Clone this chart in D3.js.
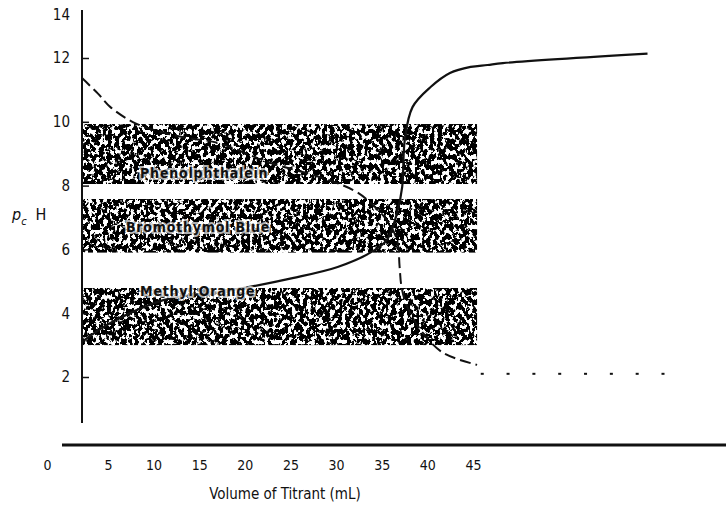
<!DOCTYPE html>
<html>
<head>
<meta charset="utf-8">
<script src="https://cdn.jsdelivr.net/npm/d3@7"></script>
<style>
  body { margin: 0; background: #fff; }
  svg { display: block; }
  text { font-family: "Liberation Sans Narrow", "DejaVu Sans Condensed", sans-serif; fill: #111; }
</style>
</head>
<body>
<svg width="726" height="510"></svg>
<script>
// tick labels
const volumeTicks = [0, 5, 10, 15, 20, 25, 30, 35, 40, 45];
const phTicks = [2, 4, 6, 8, 10, 12, 14];
const phTickMarks = [2, 4, 6, 8, 10, 12];

// indicator ranges (pH)
const indicatorNames = ["Phenolphthalein", "Bromothymol Blue", "Methyl Orange"];
const indicatorLow = [8.05, 5.9, 3.0];
const indicatorHigh = [9.93, 7.58, 4.79];
const indicatorEnd = 30.6; // mL
const labelVolume = [4.5, 3.4, 4.5];
const labelPH = [8.4, 6.7, 4.7];

// weak acid titrated with strong base (solid)
const acidVolume = [0, 2.2, 6.3, 11.7, 16.3, 19.8, 22.3, 23.6, 24.4, 24.8, 25.0, 25.6, 27.0, 28.5, 30.1, 31.4, 32.6, 43.8];
const acidPH = [3.1, 3.69, 4.41, 4.73, 5.1, 5.45, 5.89, 6.29, 7.14, 7.96, 9.43, 10.46, 11.09, 11.53, 11.72, 11.78, 11.84, 12.2];

// weak base titrated with strong acid (dashed)
const baseVolume = [0, 1.2, 2.2, 4.1, 6.1, 8.2, 10.5, 14.6, 18.4, 21.0, 22.1, 23.6, 24.4, 24.6, 24.75, 25.2, 26.4, 28.0, 30.6];
const basePH = [11.37, 10.9, 10.46, 9.96, 9.68, 9.49, 9.34, 8.71, 8.27, 7.86, 7.55, 6.92, 6.29, 5.45, 4.82, 4.19, 3.38, 2.75, 2.38];

// excess acid (dotted)
const excessVolume = [31, 33, 35, 37, 39, 41, 43, 45];
const excessPH = [2.1, 2.1, 2.1, 2.1, 2.1, 2.1, 2.1, 2.1];

const svg = d3.select("svg");

const x = d3.scaleLinear().domain([0, 45]).range([82, 663]);
const y = d3.scaleLinear().domain([2, 12, 14]).range([377, 58, 15]);
const xLabel = d3.scaleLinear().domain([0, 5, 45]).range([47, 108, 473]);

// speckled texture for indicator bands
const defs = svg.append("defs");
const grain = defs.append("filter")
  .attr("id", "grain")
  .attr("x", 0).attr("y", 0).attr("width", 1).attr("height", 1);
grain.append("feTurbulence")
  .attr("type", "fractalNoise")
  .attr("baseFrequency", "0.26 0.2")
  .attr("numOctaves", 4)
  .attr("seed", 5)
  .attr("result", "n");
grain.append("feColorMatrix")
  .attr("in", "n")
  .attr("type", "matrix")
  .attr("values", "0 0 0 0 0  0 0 0 0 0  0 0 0 0 0  -18 0 0 0 10.2")
  .attr("result", "dark");
grain.append("feComposite")
  .attr("in", "dark")
  .attr("in2", "SourceGraphic")
  .attr("operator", "in");

const bands = indicatorNames.map((name, i) => ({
  name, low: indicatorLow[i], high: indicatorHigh[i], lx: labelVolume[i], lp: labelPH[i]
}));

svg.append("g")
  .selectAll("rect")
  .data(bands)
  .enter()
  .append("rect")
  .attr("x", x(0) + 1)
  .attr("y", d => y(d.high))
  .attr("width", x(indicatorEnd) - x(0) - 1)
  .attr("height", d => y(d.low) - y(d.high))
  .attr("fill", "#fff")
  .attr("filter", "url(#grain)");

// y axis
svg.append("line")
  .attr("x1", x(0)).attr("x2", x(0))
  .attr("y1", 10).attr("y2", 423)
  .attr("stroke", "#111").attr("stroke-width", 2);

const yTicks = svg.append("g")
  .attr("transform", `translate(${x(0)},0)`)
  .call(d3.axisRight(y).tickValues(phTickMarks).tickSize(7).tickFormat(""));
yTicks.select(".domain").remove();
yTicks.selectAll("line").attr("stroke", "#111").attr("stroke-width", 1.5);

const yLabels = svg.append("g")
  .attr("transform", `translate(${x(0)},0)`)
  .call(d3.axisLeft(y).tickValues(phTicks).tickSize(0).tickPadding(12));
yLabels.select(".domain").remove();
yLabels.selectAll("text")
  .attr("font-size", 15)
  .attr("fill", "#111");

const yTitle = svg.append("text")
  .attr("x", 12).attr("y", 220)
  .attr("font-size", 16);
yTitle.append("tspan").attr("font-style", "italic").text("p");
yTitle.append("tspan").attr("font-style", "italic").attr("font-size", 11).attr("dy", 5).text("c");
yTitle.append("tspan").attr("dx", 9).attr("dy", -5).text("H");

// x axis
svg.append("line")
  .attr("x1", 62).attr("x2", 726)
  .attr("y1", 445).attr("y2", 445)
  .attr("stroke", "#111").attr("stroke-width", 3);

const xAxis = svg.append("g")
  .attr("transform", "translate(0,460)")
  .call(d3.axisBottom(xLabel).tickValues(volumeTicks).tickSize(0).tickPadding(0));
xAxis.select(".domain").remove();
xAxis.selectAll("text")
  .attr("font-size", 14)
  .attr("fill", "#111");

svg.append("text")
  .attr("x", 285).attr("y", 499)
  .attr("text-anchor", "middle")
  .attr("font-size", 15)
  .text("Volume of Titrant (mL)");

// curves
const line = d3.line()
  .x(d => x(d[0]))
  .y(d => y(d[1]))
  .curve(d3.curveCatmullRom.alpha(0.5));

svg.append("path")
  .datum(baseVolume.map((v, i) => [v, basePH[i]]))
  .attr("d", line)
  .attr("fill", "none")
  .attr("stroke", "#111")
  .attr("stroke-width", 2)
  .attr("stroke-dasharray", "11,5");

svg.append("path")
  .datum(acidVolume.map((v, i) => [v, acidPH[i]]))
  .attr("d", line)
  .attr("fill", "none")
  .attr("stroke", "#111")
  .attr("stroke-width", 2.2);

svg.append("g")
  .selectAll("rect")
  .data(excessVolume.map((v, i) => [v, excessPH[i]]))
  .enter()
  .append("rect")
  .attr("x", d => x(d[0]) - 1.5)
  .attr("y", d => y(d[1]) - 1)
  .attr("width", 3)
  .attr("height", 2)
  .attr("fill", "#111");

// indicator labels
svg.append("g")
  .selectAll("text")
  .data(bands)
  .enter()
  .append("text")
  .attr("x", d => x(d.lx))
  .attr("y", d => y(d.lp))
  .attr("dy", "0.35em")
  .attr("font-family", "'Liberation Sans', Arial, sans-serif")
  .attr("font-weight", "bold")
  .attr("font-size", 14)
  .attr("letter-spacing", 0.8)
  .attr("stroke", "#fff")
  .attr("stroke-opacity", 0.7)
  .attr("stroke-width", 4)
  .attr("paint-order", "stroke")
  .text(d => d.name);
</script>
</body>
</html>
